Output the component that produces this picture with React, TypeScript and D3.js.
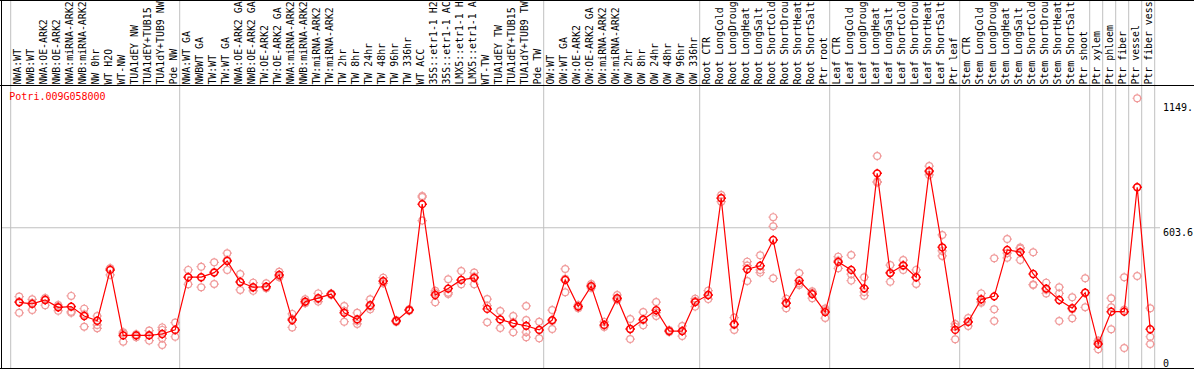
import React from "react";
import * as d3 from "d3";

const title = "Potri.009G058000";

const labels: string[] = [
  "NWA:WT", "NWB:WT", "NWA:OE-ARK2", "NWB:OE-ARK2", "NWA:miRNA-ARK2", "NWB:miRNA-ARK2", "NW 0hr", "WT H2O", "WT-NW", "TUA1dEY NW", "TUA1dEY+TUB15", "TUA1dY+TUB9 NW", "Pde NW",
  "NWA:WT GA", "NWBWT GA", "TW:WT", "TW:WT GA", "NWA:OE-ARK2 GA", "NWB:OE-ARK2 GA", "TW:OE-ARK2", "TW:OE-ARK2 GA", "NWA:miRNA-ARK2", "NWB:miRNA-ARK2", "TW:miRNA-ARK2", "TW:miRNA-ARK2",
  "TW 2hr", "TW 8hr", "TW 24hr", "TW 48hr", "TW 96hr", "TW 336hr", "WT ACC", "35S::etr1-1 H2", "35S::etr1-1 AC", "LMX5::etr1-1 H", "LMX5::etr1-1 A", "WT-TW", "TUA1dEY TW", "TUA1dEY+TUB15", "TUA1dY+TUB9 TW", "Pde TW",
  "OW:WT", "OW:WT GA", "OW:OE-ARK2", "OW:OE-ARK2 GA", "OW:miRNA-ARK2", "OW:miRNA-ARK2", "OW 2hr", "OW 8hr", "OW 24hr", "OW 48hr", "OW 96hr", "OW 336hr",
  "Root CTR", "Root LongCold", "Root LongDroug", "Root LongHeat", "Root LongSalt", "Root ShortCold", "Root ShortDrou", "Root ShortHeat", "Root ShortSalt", "Ptr root",
  "Leaf CTR", "Leaf LongCold", "Leaf LongDroug", "Leaf LongHeat", "Leaf LongSalt", "Leaf ShortCold", "Leaf ShortDrou", "Leaf ShortHeat", "Leaf ShortSalt", "Ptr leaf",
  "Stem CTR", "Stem LongCold", "Stem LongDroug", "Stem LongHeat", "Stem LongSalt", "Stem ShortCold", "Stem ShortDrou", "Stem ShortHeat", "Stem ShortSalt", "Ptr shoot",
  "Ptr xylem", "Ptr phloem", "Ptr fiber", "Ptr vessel", "Ptr fiber vess",
];

const means: number[] = [
  277, 270, 287, 255, 258, 217, 196, 419, 132, 132,
  132, 138, 156, 387, 387, 407, 458, 366, 343, 345,
  397, 199, 280, 295, 313, 231, 202, 264, 370, 195,
  243, 707, 309, 337, 375, 384, 248, 202, 185, 174,
  156, 199, 375, 258, 348, 178, 295, 160, 202, 242,
  151, 151, 278, 309, 733, 181, 422, 437, 550, 273,
  372, 313, 234, 454, 419, 338, 842, 405, 439, 387,
  852, 518, 156, 191, 290, 303, 506, 497, 401, 337,
  287, 251, 319, 94, 236, 236, 781, 159,
];

const replicates: number[][] = [
  [302, 231, 280], [290, 243, 275], [296, 264, 290], [265, 240, 258], [305, 231, 236],
  [249, 170, 225], [217, 178, 163], [426, 397, 425], [146, 104, 140], [137, 124, 134],
  [153, 109, 135], [167, 156, 119, 90], [188, 126, 155], [419, 356, 387], [433, 343, 385],
  [452, 357, 410], [492, 419, 462], [401, 331, 366], [363, 327, 340], [360, 338, 345],
  [411, 387, 392], [226, 167, 205], [290, 273, 278], [316, 280, 290], [316, 309, 313],
  [261, 192, 240], [231, 182, 195], [290, 246, 258], [385, 360, 368], [199, 191, 195],
  [246, 240, 243], [743, 738, 635], [327, 318, 277], [378, 313, 319], [414, 356, 375],
  [407, 356, 390], [291, 189, 262], [239, 164, 202], [217, 146, 190], [261, 199, 146, 124],
  [192, 119, 156], [243, 160, 195], [423, 321, 380], [251, 265, 258], [357, 340, 348],
  [191, 169, 175], [309, 287, 290], [204, 116, 160], [234, 176, 198], [278, 217, 232],
  [156, 147, 151], [173, 129, 151], [293, 258, 283], [328, 291, 309], [747, 718, 735],
  [210, 156, 178], [455, 370, 438], [483, 407, 419], [650, 610, 382], [293, 251, 275],
  [405, 353, 360], [319, 295, 325], [242, 208, 250], [477, 426, 460], [484, 372, 400],
  [387, 306, 322], [918, 806, 802], [440, 367, 408], [462, 419, 436], [419, 357, 385],
  [874, 848, 835], [572, 480, 502], [182, 115, 170], [208, 173, 192], [316, 275, 280],
  [470, 246, 195], [554, 472, 492], [512, 462, 517], [496, 353, 355], [363, 316, 332],
  [343, 316, 195], [299, 207, 246], [382, 255, 319], [109, 71, 102], [295, 255, 159],
  [387, 77, 244], [1171, 392, 781], [251, 126, 94],
];

const groupBreaks: number[] = [0, 13, 41, 53, 63, 73, 83, 84, 85, 86, 87, 88];

const yTickValues: number[] = [0, 603.6, 1149];
const yTickLabels: string[] = ["0", "603.6", "1149."];

const W = 1194;
const H = 370;
const FONT = "'DejaVu Sans Mono', monospace";

export default function App() {
  const x = d3.scaleLinear().domain([0, labels.length]).range([10.7, 10.7 + 13 * labels.length]);
  const y = d3.scaleLinear().domain([0, 1207.2]).range([365.5, 90]);
  const cx = (i: number) => x(i) + 8.5;
  const line = d3
    .line<number>()
    .x((_, i) => cx(i))
    .y((d) => y(d));

  const r = 3.4;
  const spokes = (px: number, py: number) =>
    `M${px - r - 1.3},${py}h1.3M${px + r},${py}h1.3M${px},${py - r - 1.3}v1.3M${px},${py + r}v1.3`;

  return (
    <svg width={W} height={H} style={{ display: "block" }} xmlns="http://www.w3.org/2000/svg">
      <style>{`body{margin:0}`}</style>
      <rect x={0} y={0} width={W} height={H} fill="#fff" />
      {groupBreaks.map((g) => (
        <line key={"g" + g} x1={x(g)} x2={x(g)} y1={0} y2={368} stroke="#c0c0c0" strokeWidth={1} />
      ))}
      <line x1={1} x2={1160} y1={y(603.6)} y2={y(603.6)} stroke="#c0c0c0" strokeWidth={1} />
      <line x1={0} x2={W} y1={0.5} y2={0.5} stroke="#000" />
      <line x1={0} x2={W} y1={85.5} y2={85.5} stroke="#000" />
      <line x1={0} x2={W} y1={368.5} y2={368.5} stroke="#000" />
      <line x1={1.5} x2={1.5} y1={0} y2={369} stroke="#000" />
      {labels.map((lab, i) => (
        <text
          key={"l" + i}
          transform={`translate(${x(i) + 10.3},84.6) rotate(-90)`}
          fontFamily={FONT}
          fontSize={9.9}
          fill="#000"
        >
          {lab}
        </text>
      ))}
      <text x={9.3} y={99.5} fontFamily={FONT} fontSize={10} fill="#ff0000">
        {title}
      </text>
      {yTickValues.map((v, i) => (
        <text
          key={"t" + i}
          x={1163}
          y={v === 0 ? 367 : y(v) + 8}
          fontFamily={FONT}
          fontSize={10}
          fill="#000"
        >
          {yTickLabels[i]}
        </text>
      ))}
      {replicates.map((reps, i) =>
        reps.map((v, j) => (
          <g key={`r${i}-${j}`} stroke="#f09a9a" fill="none" strokeWidth={1.2}>
            <circle cx={cx(i)} cy={y(v)} r={r} />
            <path d={spokes(cx(i), y(v))} />
          </g>
        ))
      )}
      <path d={line(means) || ""} fill="none" stroke="#ff0000" strokeWidth={1.2} />
      {means.map((v, i) => (
        <g key={"m" + i} stroke="#ff0000" fill="none" strokeWidth={1.5}>
          <circle cx={cx(i)} cy={y(v)} r={r} />
          <path d={spokes(cx(i), y(v))} />
        </g>
      ))}
    </svg>
  );
}
